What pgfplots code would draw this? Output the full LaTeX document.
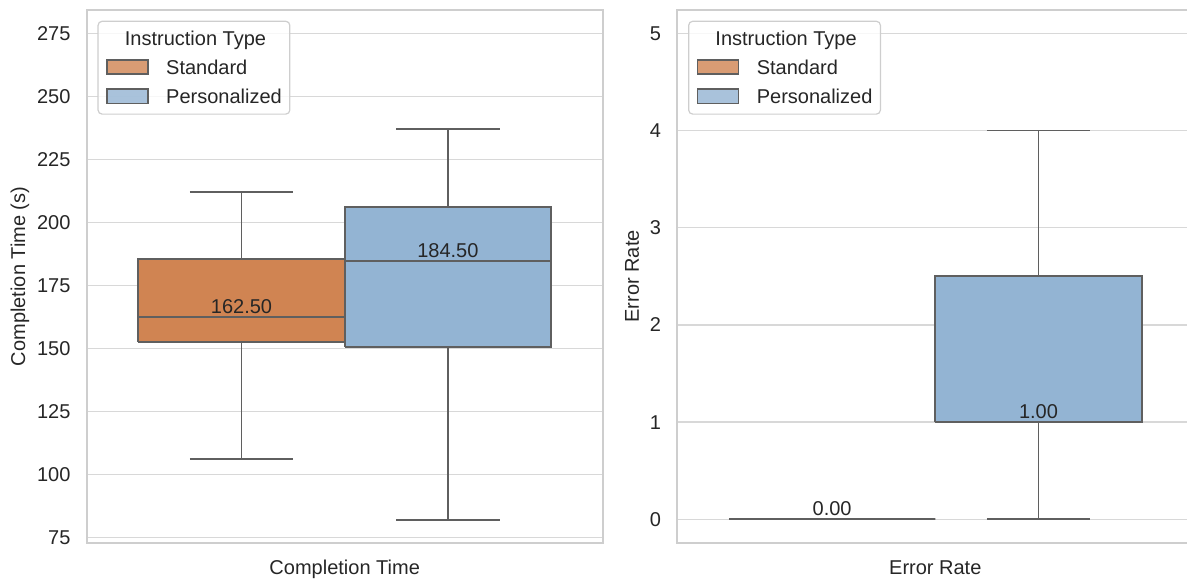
\documentclass[border=0pt]{standalone}
\usepackage{fontspec}
\setmainfont{Liberation Sans}
\usepackage{pgfplots}
\pgfplotsset{compat=1.18}
\definecolor{stdorange}{RGB}{208,132,82}
\definecolor{perblue}{RGB}{147,180,211}
\definecolor{edgegray}{RGB}{95,95,95}
\definecolor{gridgray}{RGB}{216,216,216}
\definecolor{framegray}{RGB}{206,206,206}
\definecolor{txtgray}{RGB}{38,38,38}
\pgfplotsset{
  panel/.style={
    scale only axis, width=258pt, height=266.35pt, anchor=south west,
    xmin=-0.5, xmax=0.5, xtick=\empty,
    ymajorgrids, major grid style={draw=gridgray, line width=0.7pt},
    axis line style={draw=framegray, line width=1pt},
    major tick length=0pt,
    /pgf/number format/assume math mode=true,
    yticklabel style={anchor=east, inner sep=0pt, xshift=-7.95pt, text=txtgray},
    label style={text=txtgray},
    xlabel style={at={(axis description cs:0.5,-0.0606)}, anchor=base},
    legend cell align=left,
    legend style={
      at={(axis description cs:0.0209,0.9799)}, anchor=north west,
      draw=framegray, line width=0.6pt, rounded corners=2pt,
      fill=white, fill opacity=0.8, text opacity=1,
      inner xsep=4pt, inner ysep=4.9pt,
      nodes={inner sep=0pt, text height=7.2pt, text depth=0pt, text=txtgray},
      row sep=6.6pt, column sep=8.65pt,
    },
  },
  bx/.style={forget plot, draw=edgegray, line width=0.9pt, line join=miter},
  lbl/.style={forget plot, draw=none, nodes near coords,
    point meta=explicit symbolic,
    nodes near coords style={anchor=base, yshift=1.7pt, inner sep=0pt, text=txtgray}},
  patch/.style={legend image code/.code={\draw[sharp corners, ##1] (0pt,-3.6pt) rectangle (20.5pt,3.6pt);}},
}
\begin{document}
\begin{tikzpicture}
\begin{axis}[panel, at={(43.35pt,18.15pt)},
  ymin=72.86, ymax=284.25, ytick={75,100,125,150,175,200,225,250,275},
  xlabel={Completion Time}, ylabel={Completion Time (s)},
  ylabel style={at={(axis description cs:-0.1293,0.5)}, anchor=center}]
% Standard: whiskers 106 / 212, quartiles 152.5 / 185.5, median 162.5
\addplot[bx] coordinates {(-0.2,106) (-0.2,152.5)};
\addplot[bx] coordinates {(-0.2,185.5) (-0.2,212)};
\addplot[bx] coordinates {(-0.3,106) (-0.1,106)};
\addplot[bx] coordinates {(-0.3,212) (-0.1,212)};
\addplot[bx, fill=stdorange] coordinates {(-0.4,152.5) (0,152.5) (0,185.5) (-0.4,185.5) (-0.4,152.5)};
\addplot[bx] coordinates {(-0.4,162.5) (0,162.5)};
% Personalized: whiskers 82 / 237, quartiles 150.5 / 206, median 184.5
\addplot[bx] coordinates {(0.2,82) (0.2,150.5)};
\addplot[bx] coordinates {(0.2,206) (0.2,237)};
\addplot[bx] coordinates {(0.1,82) (0.3,82)};
\addplot[bx] coordinates {(0.1,237) (0.3,237)};
\addplot[bx, fill=perblue] coordinates {(0,150.5) (0.4,150.5) (0.4,206) (0,206) (0,150.5)};
\addplot[bx] coordinates {(0,184.5) (0.4,184.5)};
\addplot[lbl] coordinates {(-0.2,162.5) [162.50] (0.2,184.5) [184.50]};
\addlegendimage{empty legend}
\addlegendentry{\makebox[0pt][l]{\hspace*{-21.15pt}Instruction Type}}
\addlegendimage{patch, draw=edgegray, fill=stdorange, line width=0.9pt}
\addlegendentry{Standard}
\addlegendimage{patch, draw=edgegray, fill=perblue, line width=0.9pt}
\addlegendentry{Personalized}
\end{axis}
\begin{axis}[panel, at={(338.65pt,18.15pt)},
  ymin=-0.24, ymax=5.24, ytick={0,1,2,3,4,5},
  xlabel={Error Rate}, ylabel={Error Rate},
  ylabel style={at={(axis description cs:-0.0878,0.5)}, anchor=center}]
% Standard: all values 0
\addplot[bx, fill=stdorange] coordinates {(-0.4,0) (0,0) (0,0) (-0.4,0) (-0.4,0)};
\addplot[bx] coordinates {(-0.3,0) (-0.1,0)};
% Personalized: whiskers 0 / 4, quartiles 1 / 2.5, median 1
\addplot[bx] coordinates {(0.2,0) (0.2,1)};
\addplot[bx] coordinates {(0.2,2.5) (0.2,4)};
\addplot[bx] coordinates {(0.1,0) (0.3,0)};
\addplot[bx] coordinates {(0.1,4) (0.3,4)};
\addplot[bx, fill=perblue] coordinates {(0,1) (0.4,1) (0.4,2.5) (0,2.5) (0,1)};
\addplot[bx] coordinates {(0,1) (0.4,1)};
\addplot[lbl] coordinates {(-0.2,0) [0.00] (0.2,1) [1.00]};
\addlegendimage{empty legend}
\addlegendentry{\makebox[0pt][l]{\hspace*{-21.15pt}Instruction Type}}
\addlegendimage{patch, draw=edgegray, fill=stdorange, line width=0.9pt}
\addlegendentry{Standard}
\addlegendimage{patch, draw=edgegray, fill=perblue, line width=0.9pt}
\addlegendentry{Personalized}
\end{axis}
\pgfresetboundingbox
\path[use as bounding box] (0pt,0pt) rectangle (593.5pt,289.5pt);
\end{tikzpicture}
\end{document}
